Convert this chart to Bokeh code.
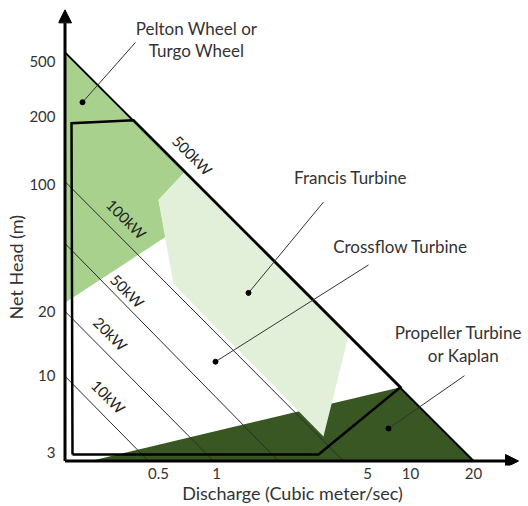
import math
from bokeh.plotting import figure
from bokeh.models import Range1d, FixedTicker, Arrow, NormalHead, Title
from bokeh.embed import file_html
from bokeh.resources import INLINE
from bokeh.core.properties import value

# ---- schematic chart coordinates (relative log position, 0-100 on both axes) ----
x_tick_pos = [21.37, 33.76, 66.03, 75.21, 88.68]
x_tick_labels = ["0.5", "1", "5", "10", "20"]
y_tick_pos = [2.84, 19.65, 33.62, 61.57, 76.42, 88.43]
y_tick_labels = ["3", "10", "20", "100", "200", "500"]

# axes origin / arrow tips
axis_origin = [1.39, 0.98]
x_arrow_tip = 98.3
y_arrow_tip = 99.7

# turbine regions
pelton_x = [1.39, 26.92, 21.37, 22.86, 1.39]
pelton_y = [90.39, 64.19, 58.08, 50.00, 35.59]
francis_x = [26.92, 21.37, 24.57, 56.62, 61.97]
francis_y = [64.19, 58.08, 39.74, 6.33, 28.38]
kaplan_x = [6.84, 73.08, 88.68]
kaplan_y = [0.98, 17.14, 0.98]

# operating envelope (thick outline)
envelope_x = [2.99, 2.78, 16.03, 73.08, 55.56, 2.99]
envelope_y = [2.40, 74.89, 75.55, 17.14, 2.40, 2.40]

# power lines
max_line_x = [1.39, 88.68]
max_line_y = [90.39, 0.98]
kw_x0 = [1.50, 1.50, 1.50, 1.50]
kw_y0 = [62.01, 48.47, 33.62, 19.43]
kw_x1 = [60.90, 47.01, 33.12, 19.23]
kw_y1 = [0.98, 0.98, 0.98, 0.98]
kw_labels = ["500kW", "100kW", "50kW", "20kW", "10kW"]
kw_label_x = [28.63, 14.53, 14.74, 11.11, 10.68]
kw_label_y = [67.90, 53.93, 38.21, 28.82, 15.07]

# region labels and leaders
region_text = ["Pelton Wheel or", "Turgo Wheel", "Francis Turbine",
               "Crossflow Turbine", "Propeller Turbine", "or Kaplan"]
region_text_x = [29.49, 29.49, 62.39, 73.08, 85.47, 86.54]
region_text_y = [95.63, 90.83, 63.10, 47.82, 29.04, 24.02]
dot_x = [5.13, 40.60, 33.55, 70.51]
dot_y = [79.48, 37.77, 22.71, 8.08]
leader_x = [16.45, 56.62, 66.24, 86.75]
leader_y = [92.58, 57.64, 43.89, 19.65]

FONT = "Lato"
TXT = "#333333"

p = figure(width=526, height=506, output_backend="svg", toolbar_location=None,
           x_range=Range1d(0, 100), y_range=Range1d(0, 100),
           min_border_left=58, min_border_right=0, min_border_top=8,
           min_border_bottom=40, title=None)
p.grid.visible = False
p.outline_line_color = None
p.background_fill_color = "white"
p.border_fill_color = "white"

for ax, pos, labs in ((p.xaxis, x_tick_pos, x_tick_labels), (p.yaxis, y_tick_pos, y_tick_labels)):
    ax.ticker = FixedTicker(ticks=pos)
    ax.major_label_overrides = {k: v for k, v in zip(pos, labs)}
    ax.axis_line_color = None
    ax.major_tick_line_color = None
    ax.minor_tick_line_color = None
    ax.major_tick_out = 0
    ax.major_tick_in = 0
    ax.minor_tick_out = 0
    ax.minor_tick_in = 0
    ax.major_label_text_font = FONT
    ax.major_label_text_font_size = "15px"
    ax.major_label_text_color = TXT
p.xaxis.major_label_standoff = 2
p.yaxis.major_label_standoff = 3
p.yaxis.axis_label_standoff = 0
p.xaxis.axis_label = "Discharge (Cubic meter/sec)"
p.xaxis.axis_label_standoff = 0
p.xaxis.axis_label_text_font = FONT
p.xaxis.axis_label_text_font_size = "18px"
p.xaxis.axis_label_text_font_style = "normal"
p.xaxis.axis_label_text_color = TXT

# y-axis title (side title so it can sit below the frame centre, as in the original)
p.add_layout(Title(text="Net Head (m)", align="left", offset=146,
                   text_font=FONT, text_font_size="18px",
                   text_font_style="normal", text_color=TXT, standoff=0), "left")

# regions
p.patch(pelton_x, pelton_y, fill_color="#a9d18e", line_color=None)
p.patch(kaplan_x, kaplan_y, fill_color="#385723", line_color=None)
p.patch(francis_x, francis_y, fill_color="#e2f0d9", line_color=None)

# power lines
p.segment(kw_x0, kw_y0, kw_x1, kw_y1, line_color="#2b2b2b", line_width=1)
p.line(max_line_x, max_line_y, line_color="black", line_width=2)
p.line(envelope_x, envelope_y, line_color="black", line_width=2.5, line_join="miter")

p.text(kw_label_x, kw_label_y, text=kw_labels, angle=-math.pi / 4,
       text_align="center", text_baseline="middle", text_font=value(FONT),
       text_font_size="15px", text_color="#222222")

# axes with arrows
p.add_layout(Arrow(end=NormalHead(size=13, fill_color="black", line_color="black"),
                   x_start=axis_origin[0], y_start=axis_origin[1],
                   x_end=x_arrow_tip, y_end=axis_origin[1],
                   line_width=3, line_color="black"))
p.add_layout(Arrow(end=NormalHead(size=13, fill_color="black", line_color="black"),
                   x_start=axis_origin[0], y_start=axis_origin[1],
                   x_end=axis_origin[0], y_end=y_arrow_tip,
                   line_width=3, line_color="black"))

# leaders & dots
p.segment(dot_x, dot_y, leader_x, leader_y, line_color="#333333", line_width=1)
p.scatter(dot_x, dot_y, size=5, color="black")
p.text(region_text_x, region_text_y, text=region_text, text_align="center",
       text_baseline="middle", text_font=value(FONT), text_font_size="17px",
       text_color=TXT)

open("out.html", "w").write(file_html(p, INLINE))
